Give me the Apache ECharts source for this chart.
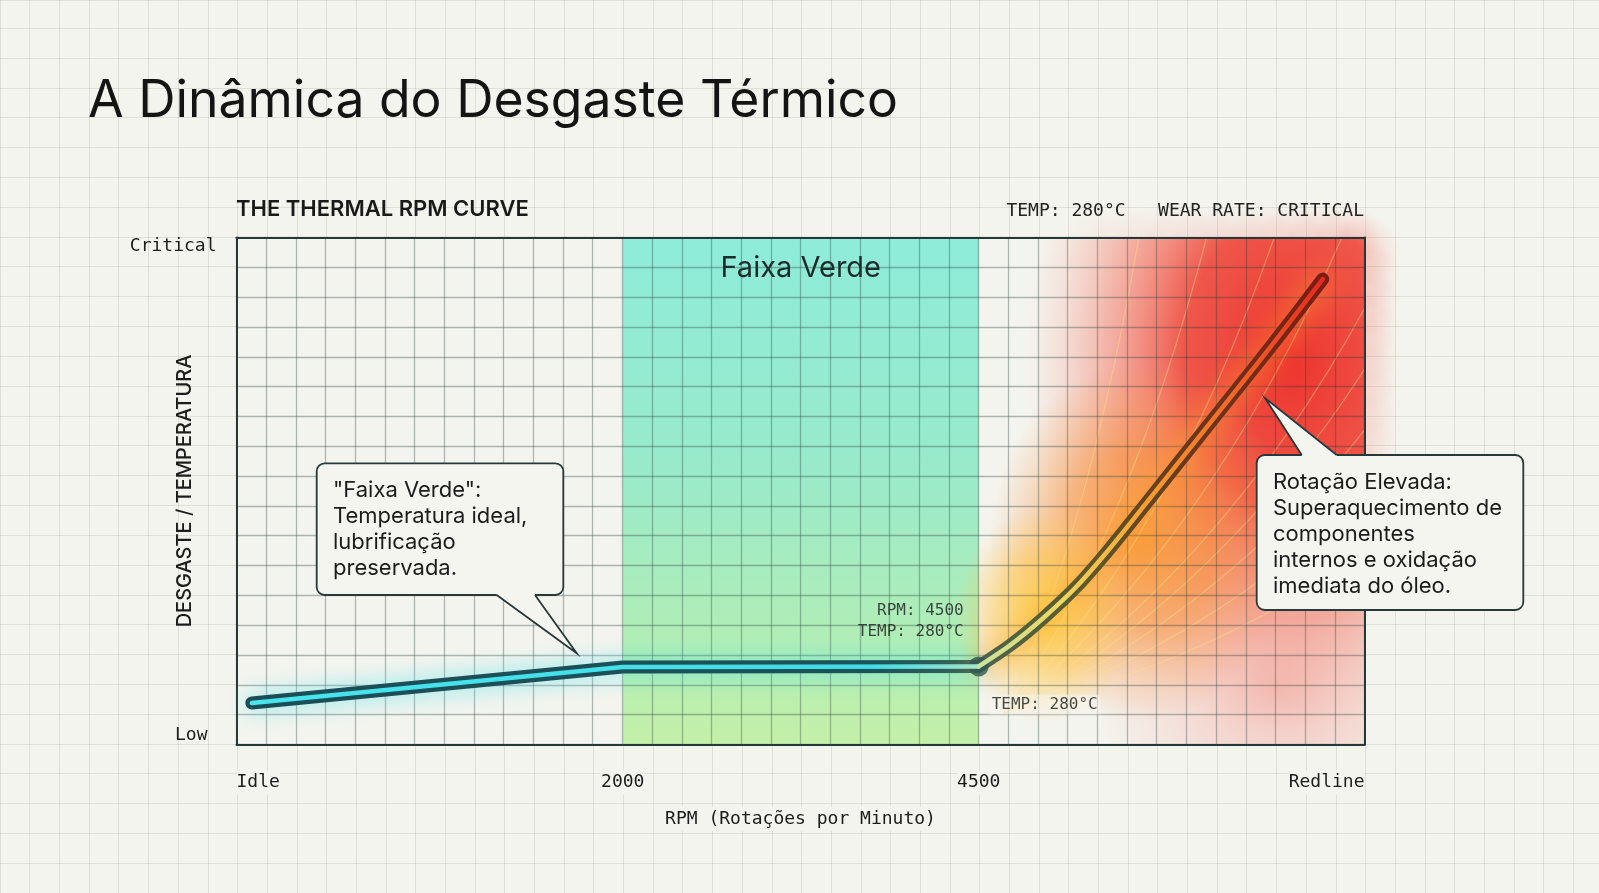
<!DOCTYPE html>
<html>
<head>
<meta charset="utf-8">
<script src="https://cdn.jsdelivr.net/npm/echarts@6/dist/echarts.min.js"></script>
<style>
html,body{margin:0;padding:0;background:#f4f4ee;}
#c{width:1599px;height:893px;}
</style>
</head>
<body>
<div id="c"></div>
<script>
// ---------- data ----------
const rpmTickLabels = ['Idle', '2000', '4500', 'Redline'];
const rpmTickPos = [0, 34.24, 65.8, 100];
const levelTickLabels = ['Low', 'Critical'];
const levelTickPos = [0, 100];
const curveX = [1.36, 34.24, 65.8, 68.6, 71.5, 74.5, 77.4, 80.4, 83.4, 86.3, 89.2, 92.3, 96.3];
const curveY = [8.2, 15.3, 15.4, 19.6, 24.9, 31.2, 38.6, 46.9, 55.3, 63.4, 71.5, 80.2, 91.8];
const kneeIndex = 2;
const greenBand = [34.24, 65.8];
const bandLabel = 'Faixa Verde';
const kneeNotes = ['RPM: 4500', 'TEMP: 280°C'];
const kneeNoteBelow = 'TEMP: 280°C';
const statusText = 'TEMP: 280°C   WEAR RATE: CRITICAL';
const titleText = 'A Dinâmica do Desgaste Térmico';
const subtitleText = 'THE THERMAL RPM CURVE';
const xName = 'RPM (Rotações por Minuto)';
const yName = 'DESGASTE / TEMPERATURA';
const callout1Lines = ['"Faixa Verde":', 'Temperatura ideal,', 'lubrificação', 'preservada.'];
const callout2Lines = ['Rotação Elevada:', 'Superaquecimento de', 'componentes', 'internos e oxidação', 'imediata do óleo.'];

// ---------- build ----------
const chart = echarts.init(document.getElementById('c'));
const G = echarts.graphic;
const MONO = '"DejaVu Sans Mono", "Liberation Mono", monospace';
const SANS = 'Inter, "Noto Sans", sans-serif';
const INK = '#1c1c1c';
const FRAME = '#25393b';
const PAGE = '#f4f4ee';
const BUBBLE = '#f5f5f0';
const BUBBLE_EDGE = '#27393a';
const CELL_W = 29.684, CELL_H = 29.824, PAGE_W = 1599, PAGE_H = 893;

const pts = curveX.map((x, i) => [x, curveY[i]]);
const coolPts = pts.slice(0, kneeIndex + 1);
const hotPts = pts.slice(kneeIndex);
const nearestIdx = (arr, v) => { let b = 0; arr.forEach((a, i) => { if (Math.abs(a - v) < Math.abs(arr[b] - v)) b = i; }); return b; };
const grad = (x0, y0, x1, y1, stops) => new G.LinearGradient(x0, y0, x1, y1, stops.map(s => ({offset: s[0], color: s[1]})));
const radial = stops => new G.RadialGradient(0.5, 0.5, 0.5, stops.map(s => ({offset: s[0], color: s[1]})));

function heatItem(params, api) {
  const glow = (gx, gy, r, sy, stops) => {
    const c = api.coord([gx, gy]);
    return {type: 'circle', x: c[0], y: c[1], scaleY: sy, shape: {cx: 0, cy: 0, r: r}, style: {fill: radial(stops)}};
  };
  const children = [
    glow(92.5, 10.7, 190, 0.8, [[0, 'rgba(242,128,118,0.45)'], [1, 'rgba(242,150,140,0)']]),
    glow(93.4, 75.8, 265, 1.4, [[0, 'rgba(236,40,34,0.94)'], [0.4, 'rgba(238,56,42,0.84)'], [0.7, 'rgba(242,105,85,0.45)'], [1, 'rgba(246,170,160,0)']]),
    glow(80.0, 40.0, 150, 1.2, [[0, 'rgba(250,150,40,0.85)'], [0.5, 'rgba(248,140,45,0.55)'], [1, 'rgba(248,150,80,0)']]),
    glow(71.7, 25.5, 90, 1.2, [[0, 'rgba(255,208,60,0.88)'], [0.55, 'rgba(255,196,60,0.48)'], [1, 'rgba(255,200,90,0)']])
  ];
  const o = api.coord([68, 6]);
  const ends = [[80, 100], [86, 100], [92, 100], [98, 100], [100, 86], [100, 74], [100, 62], [100, 50], [100, 38]];
  ends.forEach(e => {
    const p = api.coord(e);
    children.push({type: 'bezierCurve', shape: {x1: o[0], y1: o[1], x2: p[0], y2: p[1],
      cpx1: o[0] + (p[0] - o[0]) * 0.6, cpy1: o[1] + (p[1] - o[1]) * 0.35},
      style: {stroke: 'rgba(255,226,140,0.38)', lineWidth: 1.3, fill: null}});
  });
  return {type: 'group', children: children};
}

// soft red halo that bleeds just outside the plot frame (sits below the plot background)
function haloItem(params, api) {
  const children = [];
  const dot = (p, r, a) => children.push({type: 'circle', shape: {cx: p[0], cy: p[1], r: r},
    style: {fill: radial([[0, 'rgba(238,70,55,' + a + ')'], [1, 'rgba(238,70,55,0)']])}});
  for (let x = 76; x <= 100.01; x += 2.5) { const t = (x - 76) / 24; dot(api.coord([x, 100]), 34, (0.04 + 0.15 * t).toFixed(3)); }
  for (let y = 97.5; y >= 30; y -= 5) { const t = (y - 30) / 70; dot(api.coord([100, y]), 36, (0.03 + 0.17 * t).toFixed(3)); }
  return {type: 'group', children: children};
}

function lineSeries(data, z, lineStyle, extra) {
  return Object.assign({type: 'line', data: data, xAxisIndex: 0, yAxisIndex: 0, symbol: 'none',
    silent: true, z: z, clip: false, lineStyle: Object.assign({cap: 'round', join: 'round'}, lineStyle)}, extra || {});
}

// speech bubble: box + tail (tail given as base-left, tip, base-right on the box edge)
function bubble(box, tail, lines, textPos) {
  const edgeOff = tail[0][1] <= box.y + 1 ? 2.5 : -2.5;
  return [
    {type: 'rect', z: 20, shape: {x: box.x, y: box.y, width: box.w, height: box.h, r: 8},
      style: {fill: BUBBLE, stroke: BUBBLE_EDGE, lineWidth: 1.8}},
    {type: 'polygon', z: 21, shape: {points: [[tail[0][0], tail[0][1] + edgeOff], tail[0], tail[1], tail[2], [tail[2][0], tail[2][1] + edgeOff]]},
      style: {fill: BUBBLE, stroke: null}},
    {type: 'polyline', z: 22, shape: {points: tail}, style: {stroke: BUBBLE_EDGE, lineWidth: 1.8, fill: null, lineJoin: 'miter'}},
    {type: 'text', z: 23, x: textPos[0], y: textPos[1],
      style: {text: lines.join('\n'), fontFamily: SANS, fontSize: 22, lineHeight: 26, fill: INK}}
  ];
}

const plotGridLine = {show: true, lineStyle: {color: 'rgba(38,60,60,0.34)', width: 1.3}};
const pageGridLine = {show: true, lineStyle: {color: 'rgba(60,60,50,0.11)', width: 1}};
const hidden = {axisLine: {show: false}, axisTick: {show: false}, axisLabel: {show: false}};

const option = {
  backgroundColor: PAGE,
  animation: false,
  title: [
    {text: titleText, left: 88, top: 71, padding: 0, textStyle: {fontFamily: SANS, fontSize: 51.7, fontWeight: 400, color: '#141414', lineHeight: 60}},
    {text: subtitleText, left: 236, top: 198, padding: 0, textStyle: {fontFamily: SANS, fontSize: 22, fontWeight: 600, color: '#1a1a1a', lineHeight: 22}},
    {text: statusText, right: 235, top: 201, padding: 0, textStyle: {fontFamily: MONO, fontSize: 18, fontWeight: 400, color: '#222', lineHeight: 20}}
  ],
  grid: [
    {left: 236.5, top: 237.5, width: 1128, height: 507, show: true, backgroundColor: PAGE, borderWidth: 0, z: 0},
    {left: 0, top: 0, right: 0, bottom: 0}
  ],
  xAxis: [
    {gridIndex: 0, type: 'value', min: 0, max: 100, position: 'bottom', z: 4,
      axisLine: {show: true, onZero: false, lineStyle: {color: FRAME, width: 2}},
      axisTick: {show: false}, splitLine: {show: false},
      axisLabel: {customValues: rpmTickPos, formatter: v => rpmTickLabels[nearestIdx(rpmTickPos, v)],
        fontFamily: MONO, fontSize: 18, color: INK, margin: 26, alignMinLabel: 'left', alignMaxLabel: 'right',
        backgroundColor: PAGE, padding: [3, 0]},
      name: xName, nameLocation: 'middle', nameGap: 62.5, nameMoveOverlap: false,
      nameTextStyle: {fontFamily: MONO, fontSize: 18, color: INK, backgroundColor: PAGE, padding: [3, 6]}},
    Object.assign({gridIndex: 0, type: 'value', min: 0, max: 38, interval: 1, position: 'top', z: 3,
      splitLine: plotGridLine}, hidden, {axisLine: {show: true, onZero: false, lineStyle: {color: FRAME, width: 2}}}),
    Object.assign({gridIndex: 1, type: 'value', min: 0, max: PAGE_W / CELL_W, interval: 1, z: -1,
      splitLine: pageGridLine}, hidden)
  ],
  yAxis: [
    {gridIndex: 0, type: 'value', min: 0, max: 100, position: 'left', z: 4,
      axisLine: {show: true, onZero: false, lineStyle: {color: FRAME, width: 2}},
      axisTick: {show: false}, splitLine: {show: false},
      axisLabel: {customValues: levelTickPos,
        formatter: v => { const t = levelTickLabels[nearestIdx(levelTickPos, v)]; return v < 50 ? '{low|' + t + '}' : '{hi|' + t + '}'; },
        rich: {low: {fontFamily: MONO, fontSize: 18, color: INK, padding: [0, 9, 0, 0]}, hi: {fontFamily: MONO, fontSize: 18, color: INK}},
        fontFamily: MONO, fontSize: 18, color: INK, margin: 20,
        verticalAlignMinLabel: 'bottom', verticalAlignMaxLabel: 'top'},
      name: yName, nameLocation: 'middle', nameGap: 42, nameRotate: 90, nameMoveOverlap: false,
      nameTextStyle: {fontFamily: SANS, fontSize: 20, fontWeight: 500, color: INK}},
    Object.assign({gridIndex: 0, type: 'value', min: 0, max: 17, interval: 1, position: 'right', z: 3,
      splitLine: plotGridLine}, hidden, {axisLine: {show: true, onZero: false, lineStyle: {color: FRAME, width: 2}}}),
    Object.assign({gridIndex: 1, type: 'value', min: 0, max: PAGE_H / CELL_H, interval: 1, z: -1,
      splitLine: pageGridLine}, hidden)
  ],
  series: [
    {type: 'custom', name: 'halo', coordinateSystem: 'cartesian2d', xAxisIndex: 0, yAxisIndex: 0,
      clip: false, z: -0.5, silent: true, data: [[0, 0]], renderItem: haloItem},
    {type: 'custom', name: 'heat', coordinateSystem: 'cartesian2d', xAxisIndex: 0, yAxisIndex: 0,
      clip: true, z: 1, silent: true, data: [[0, 0]], renderItem: heatItem,
      markArea: {silent: true,
        itemStyle: {color: grad(0, 0, 0, 1, [[0, '#8eecd9'], [0.45, '#99eacb'], [0.75, '#aeedb9'], [1, '#c4f0a8']])},
        label: {show: true, position: 'insideTop', distance: 16, formatter: bandLabel,
          fontFamily: SANS, fontSize: 29, fontWeight: 400, color: '#1b2b2b'},
        data: [[{xAxis: greenBand[0], yAxis: 100}, {xAxis: greenBand[1], yAxis: 0}]]}},
    lineSeries(coolPts, 5, {width: 13, color: grad(0, 0, 1, 0, [[0, '#1b4d56'], [0.85, '#1d5259'], [1, '#3b6658']]),
      shadowBlur: 24, shadowColor: 'rgba(60,222,235,0.65)'}),
    lineSeries(hotPts, 5, {width: 13, color: grad(0, 1, 1, 0, [[0, '#4c6450'], [0.25, '#5e5a2c'], [0.55, '#6a3a1c'], [1, '#7c1c14']]),
      shadowBlur: 28, shadowColor: 'rgba(255,160,40,0.75)'}, {smooth: 0.25}),
    {type: 'scatter', data: [pts[kneeIndex]], symbolSize: 20, z: 6, silent: true,
      itemStyle: {color: '#2f5753'},
      label: {show: true, formatter: kneeNotes.join('\n'), position: [-5, -35], align: 'right', verticalAlign: 'middle',
        fontFamily: MONO, fontSize: 16, lineHeight: 21, color: INK}},
    lineSeries(coolPts, 7, {width: 4.5, color: grad(0, 0, 1, 0, [[0, '#48e5ef'], [0.85, '#40dde7'], [1, '#a8e6c8']])}),
    lineSeries(hotPts, 7, {width: 4.5, color: grad(0, 1, 1, 0, [[0, '#c8e4a0'], [0.2, '#eed860'], [0.45, '#f5a030'], [0.75, '#f06028'], [1, '#e6281e']])}, {smooth: 0.25}),
    {type: 'scatter', data: [pts[kneeIndex]], symbolSize: 20, z: 8, silent: true,
      itemStyle: {color: 'rgba(0,0,0,0)'},
      label: {show: true, formatter: kneeNoteBelow, position: [20, 48], align: 'left', verticalAlign: 'middle',
        fontFamily: MONO, fontSize: 16, color: INK, backgroundColor: 'rgba(246,244,236,0.7)', padding: [2, 3]}}
  ],
  graphic: [].concat(
    bubble({x: 316.7, y: 463.3, w: 246.6, h: 131.7}, [[496.7, 595], [576.7, 653.3], [535, 595]], callout1Lines, [333, 477]),
    bubble({x: 1256.7, y: 455, w: 266.6, h: 155}, [[1301.7, 455], [1265, 398], [1336.7, 455]], callout2Lines, [1273, 469])
  )
};
chart.setOption(option);
</script>
</body>
</html>
